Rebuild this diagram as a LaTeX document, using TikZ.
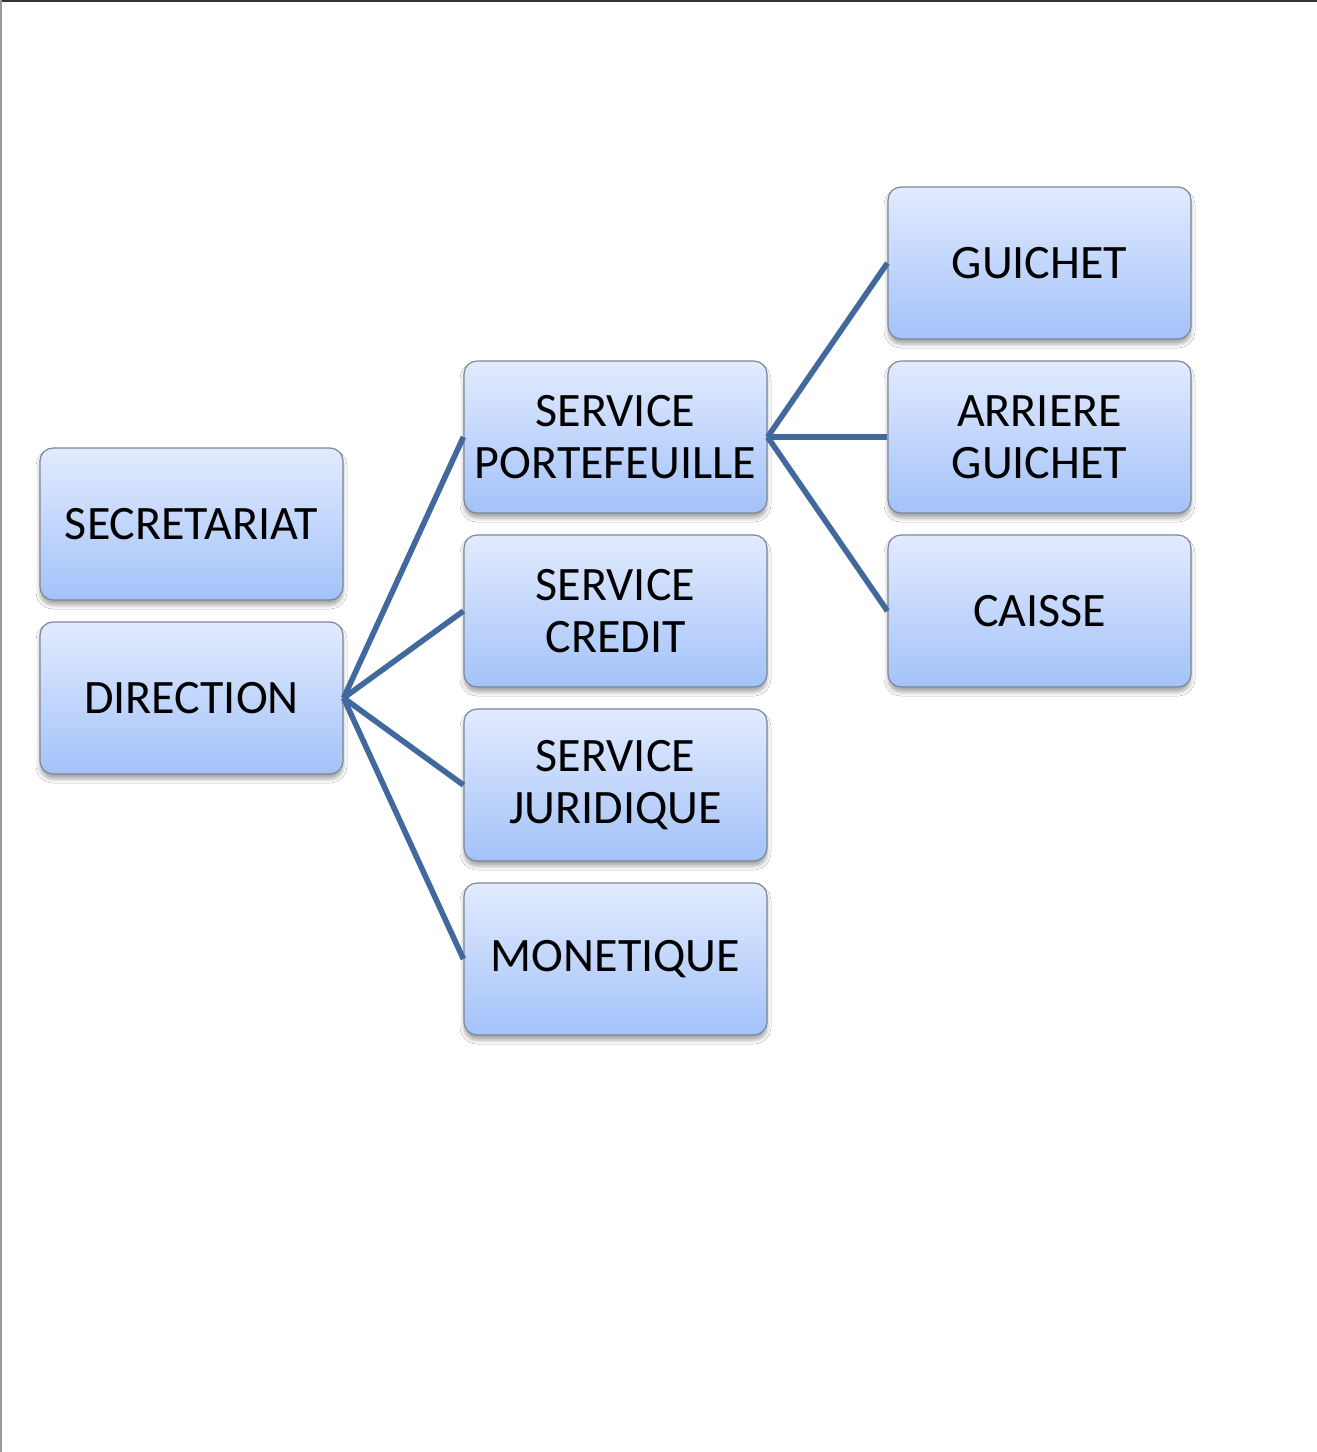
\documentclass[tikz,border=0pt]{standalone}
\usepackage{fontspec}
\setmainfont{Carlito}
\usetikzlibrary{shadows.blur}
\definecolor{boxtop}{HTML}{E2EBFE}
\definecolor{boxbot}{HTML}{A3C2F9}
\definecolor{boxedge}{HTML}{7E8796}
\definecolor{linkblue}{HTML}{41699E}
\begin{document}
\begin{tikzpicture}[x=1pt,y=-1pt,
  unit/.style={rectangle, rounded corners=13pt, draw=boxedge, line width=1.2pt,
    top color=boxtop, bottom color=boxbot,
    minimum width=303pt, minimum height=152pt, inner sep=0pt,
    align=center, font=\fontsize{48}{52}\selectfont,
    blur shadow={shadow xshift=0pt, shadow yshift=-5pt, shadow blur radius=4pt, shadow opacity=35}},
  link/.style={draw=linkblue, line width=5.6pt}]
  \useasboundingbox (0,0) rectangle (1317,1452);
  \fill[white] (0,0) rectangle (1317,1452);
  % page edges
  \draw[line width=2.4pt, draw=black!80] (0,1) -- (1317,1);
  \draw[line width=2pt, draw=black!40] (1,0) -- (1,1452);

  % boxes
  \node[unit] (sec) at (191.5,524) {SECRETARIAT};
  \node[unit] (dir) at (191.5,698) {DIRECTION};
  \node[unit] (port) at (615.5,437) {SERVICE\\PORTEFEUILLE};
  \node[unit] (cred) at (615.5,611) {SERVICE\\CREDIT};
  \node[unit] (jur) at (615.5,785) {SERVICE\\JURIDIQUE};
  \node[unit] (mon) at (615.5,959) {MONETIQUE};
  \node[unit] (gui) at (1039.5,263) {GUICHET};
  \node[unit] (arr) at (1039.5,437) {ARRIERE\\GUICHET};
  \node[unit] (cai) at (1039.5,611) {CAISSE};

  % connectors
  \foreach \t in {port,cred,jur,mon}
    \draw[link] (dir.east) -- (\t.west);
  \foreach \t in {gui,arr,cai}
    \draw[link] (port.east) -- (\t.west);
\end{tikzpicture}
\end{document}
